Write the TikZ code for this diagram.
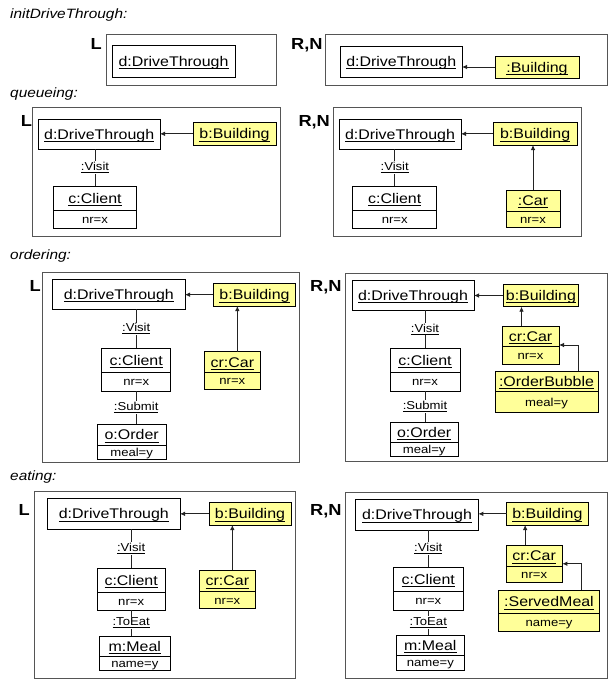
\documentclass[tikz,border=0pt]{standalone}
\usepackage{fontspec}
\setmainfont{Liberation Sans}[FakeStretch=1.14]
\usetikzlibrary{arrows.meta}
\definecolor{objyellow}{RGB}{255,255,153}
\definecolor{panelgray}{RGB}{85,85,85}
\definecolor{linegray}{RGB}{35,35,35}
\newcommand{\ulx}[1]{\setbox0=\hbox{#1}\rlap{\rule[-0.19em]{\wd0}{0.055em}}\box0}
\newcommand{\boxnode}[6]{%
  \node[#1, minimum width={(#5-#3)*1pt}, minimum height={(#6-#4)*1pt}] (#2) at ({(#3+#5)/2},{(#4+#6)/2}) {};}
\newcommand{\panelbox}[5]{\boxnode{panel}{#1}{#2}{#3}{#4}{#5}}
\newcommand{\objone}[7]{%
  \boxnode{obj,fill=#6}{#1}{#2}{#3}{#4}{#5}
  \node[hdtxt] (#1t) at ({(#2+#4)/2},{(#3+#5)/2+5}) {\ulx{#7}};}
\newcommand{\objtwo}[9]{%
  \boxnode{obj,fill=#7}{#1}{#2}{#3}{#4}{#5}
  \coordinate (#1d) at (0,#6);
  \draw[objline] (#1.west |- #1d) -- (#1.east |- #1d);
  \node[hdtxt] (#1t) at ({(#2+#4)/2},{(#3+#6)/2+5}) {\ulx{#8}};
  \node[attrtxt] (#1a) at ({(#2+#4)/2},{(#6+#5)/2+4}) {#9};}
\begin{document}
\begin{tikzpicture}[x=1pt,y=-1pt,
  panel/.style={draw=panelgray, line width=0.9pt, inner sep=0pt, outer sep=0pt},
  obj/.style={draw=black, line width=0.8pt, inner sep=0pt, outer sep=0pt},
  objline/.style={draw=black, line width=0.8pt},
  hdtxt/.style={font=\fontsize{14}{16}\selectfont, inner sep=0pt, anchor=base},
  attrtxt/.style={font=\fontsize{11.5}{13}\selectfont, inner sep=0pt, anchor=base},
  lbl/.style={font=\fontsize{11.5}{13}\selectfont, fill=white, inner sep=1pt},
  ttl/.style={font=\fontsize{13.5}{16}\selectfont\itshape, inner sep=0pt, anchor=base west},
  side/.style={font=\fontsize{16}{18}\selectfont\bfseries, inner sep=0pt, anchor=base west},
  link/.style={draw=linegray, line width=0.8pt},
  arr/.style={link, -{Latex[length=5pt,width=4.5pt]}}]
\fill[white] (0,0) rectangle (611,680);
\useasboundingbox (0,0) rectangle (611,680);

% titles
\node[ttl] (t1) at (10,19) {initDriveThrough:};
\node[ttl] (t2) at (10,97) {queueing:};
\node[ttl] (t3) at (10,259) {ordering:};
\node[ttl] (t4) at (10,480) {eating:};

% ---------- row 1 ----------
\node[side] (s1L) at (90.5,49) {L};
\node[side] (s1R) at (291,49) {R,N};
\panelbox{p1L}{106}{34}{276}{85}
\panelbox{p1R}{325}{34}{607}{85}
\objone{dt1L}{112}{45}{235}{77}{white}{d:DriveThrough}
\objone{dt1R}{340.5}{46}{462}{77}{white}{d:DriveThrough}
\objone{bld1R}{495}{56}{579}{78}{objyellow}{:Building}
\draw[arr] (bld1R.west) -- (bld1R.west -| dt1R.east);

% ---------- row 2 ----------
\node[side] (s2L) at (20.7,126.5) {L};
\node[side] (s2R) at (298.3,126.5) {R,N};
\panelbox{p2L}{32.3}{107.3}{280}{236}
\panelbox{p2R}{333.3}{107.3}{581}{236}
\objone{dt2L}{38.3}{119}{160}{149}{white}{d:DriveThrough}
\objone{bld2L}{193}{122.7}{276}{145}{objyellow}{b:Building}
\objtwo{cl2L}{53.3}{186}{136.7}{228.3}{210}{white}{c:Client}{nr=x}
\draw[arr] (bld2L.west) -- (bld2L.west -| dt2L.east);
\draw[link] (dt2L.south -| cl2L.north) -- node[lbl] (v2L) {\ulx{:Visit}} (cl2L.north);

\objone{dt2R}{339}{119}{461}{149.3}{white}{d:DriveThrough}
\objone{bld2R}{493.3}{122.7}{577}{145}{objyellow}{b:Building}
\objtwo{cl2R}{352.7}{186}{436.7}{228.3}{210}{white}{c:Client}{nr=x}
\objtwo{car2R}{506}{190}{560}{227}{211}{objyellow}{:Car}{nr=x}
\draw[arr] (bld2R.west) -- (bld2R.west -| dt2R.east);
\draw[link] (dt2R.south -| cl2R.north) -- node[lbl] (v2R) {\ulx{:Visit}} (cl2R.north);
\draw[arr] (car2R.north) -- (car2R.north |- bld2R.south);

% ---------- row 3 ----------
\node[side] (s3L) at (29.3,291) {L};
\node[side] (s3R) at (310,291) {R,N};
\panelbox{p3L}{42.3}{272.3}{299.6}{462.3}
\panelbox{p3R}{345}{273.3}{607.8}{461.7}
\objone{dt3L}{52.7}{279.3}{185}{309.3}{white}{d:DriveThrough}
\objone{bld3L}{213.3}{283.3}{295.7}{306}{objyellow}{b:Building}
\objtwo{cl3L}{101.7}{348.3}{170.7}{391}{372.7}{white}{c:Client}{nr=x}
\objtwo{or3L}{97.3}{424.3}{166}{459}{445}{white}{o:Order}{meal=y}
\objtwo{car3L}{204}{351.7}{260.7}{389}{372.3}{objyellow}{cr:Car}{nr=x}
\draw[arr] (bld3L.west) -- (bld3L.west -| dt3L.east);
\draw[link] (dt3L.south -| cl3L.north) -- node[lbl] (v3L) {\ulx{:Visit}} (cl3L.north);
\draw[link] (cl3L.south) -- node[lbl] (u3L) {\ulx{:Submit}} (cl3L.south |- or3L.north);
\coordinate (a3L) at ([xshift=5pt]car3L.north);
\draw[arr] (a3L) -- (a3L |- bld3L.south);

\objone{dt3R}{352}{280}{474}{310}{white}{d:DriveThrough}
\objone{bld3R}{503.3}{284.3}{578.6}{306.7}{objyellow}{b:Building}
\objtwo{cl3R}{390}{348.3}{460}{391}{372.7}{white}{c:Client}{nr=x}
\objtwo{or3R}{390}{422.3}{458.3}{456.7}{442.3}{white}{o:Order}{meal=y}
\objtwo{car3R}{502}{326}{559}{364}{346.7}{objyellow}{cr:Car}{nr=x}
\objtwo{ob3R}{495}{371}{598}{412.5}{391.7}{objyellow}{:OrderBubble}{meal=y}
\draw[arr] (bld3R.west) -- (bld3R.west -| dt3R.east);
\draw[link] (dt3R.south -| cl3R.north) -- node[lbl] (v3R) {\ulx{:Visit}} (cl3R.north);
\draw[link] (cl3R.south) -- node[lbl] (u3R) {\ulx{:Submit}} (cl3R.south |- or3R.north);
\coordinate (a3R) at ([xshift=-9pt]car3R.north);
\draw[arr] (a3R) -- (a3R |- bld3R.south);
\coordinate (b3R) at ([xshift=32pt]ob3R.north);
\draw[arr] (b3R) |- (car3R.east);

% ---------- row 4 ----------
\node[side] (s4L) at (18.3,515.5) {L};
\node[side] (s4R) at (310,515.5) {R,N};
\panelbox{p4L}{34.3}{491.7}{295}{678.3}
\panelbox{p4R}{345}{492.7}{607.8}{678.3}
\objone{dt4L}{47.7}{498.3}{180}{529}{white}{d:DriveThrough}
\objone{bld4L}{209}{502.7}{291}{525}{objyellow}{b:Building}
\objtwo{cl4L}{97.3}{568.3}{165}{610}{592.3}{white}{c:Client}{nr=x}
\objtwo{ml4L}{99}{636}{170.7}{670.7}{656.7}{white}{m:Meal}{name=y}
\objtwo{car4L}{199}{570}{255.7}{608.3}{591.7}{objyellow}{cr:Car}{nr=x}
\draw[arr] (bld4L.west) -- (bld4L.west -| dt4L.east);
\draw[link] (dt4L.south -| cl4L.north) -- node[lbl] (v4L) {\ulx{:Visit}} (cl4L.north);
\draw[link] (cl4L.south) -- node[lbl] (e4L) {\ulx{:ToEat}} (cl4L.south |- ml4L.north);
\coordinate (a4L) at ([xshift=5pt]car4L.north);
\draw[arr] (a4L) -- (a4L |- bld4L.south);

\objone{dt4R}{355.7}{499.3}{478.3}{530}{white}{d:DriveThrough}
\objone{bld4R}{506.7}{502.7}{588}{525}{objyellow}{b:Building}
\objtwo{cl4R}{393.3}{567.3}{463.3}{610}{591.7}{white}{c:Client}{nr=x}
\objtwo{ml4R}{396.7}{635}{464}{670}{655.7}{white}{m:Meal}{name=y}
\objtwo{car4R}{506}{545}{562.3}{582.5}{566.5}{objyellow}{cr:Car}{nr=x}
\objtwo{sm4R}{498.8}{590}{599.2}{631.7}{613.3}{objyellow}{:ServedMeal}{name=y}
\draw[arr] (bld4R.west) -- (bld4R.west -| dt4R.east);
\draw[link] (dt4R.south -| cl4R.north) -- node[lbl] (v4R) {\ulx{:Visit}} (cl4R.north);
\draw[link] (cl4R.south) -- node[lbl] (e4R) {\ulx{:ToEat}} (cl4R.south |- ml4R.north);
\coordinate (a4R) at ([xshift=-9pt]car4R.north);
\draw[arr] (a4R) -- (a4R |- bld4R.south);
\coordinate (b4R) at ([xshift=32pt]sm4R.north);
\draw[arr] (b4R) |- (car4R.east);
\end{tikzpicture}
\end{document}
